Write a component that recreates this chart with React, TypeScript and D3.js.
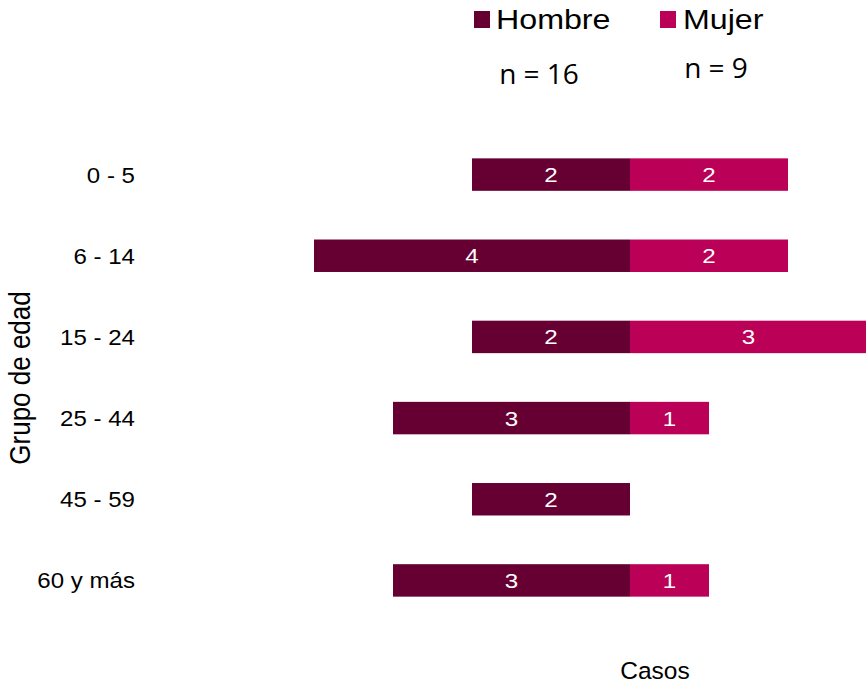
import React from "react";
import * as d3 from "d3";

const categories = ["0 - 5", "6 - 14", "15 - 24", "25 - 44", "45 - 59", "60 y más"];
const hombre = [2, 4, 2, 3, 2, 3];
const mujer = [2, 2, 3, 1, 0, 1];
const seriesNames = ["Hombre", "Mujer"];
const seriesN = ["n = 16", "n = 9"];
const colors = ["#660033", "#BA0057"];

const W = 866;
const H = 683;
const font = "'Liberation Sans', Arial, sans-serif";

function T(props: {
  x: number; y: number; size: number; sx?: number; anchor?: string; fill?: string;
  family?: string; rotate?: boolean; children: React.ReactNode;
}) {
  const { x, y, size, sx = 1, anchor = "start", fill = "#000", family = font, rotate = false } = props;
  const transform = rotate
    ? `translate(${x},${y}) rotate(-90) scale(1,${sx})`
    : `translate(${x},${y}) scale(${sx},1)`;
  return (
    <text transform={transform} textAnchor={anchor} fontSize={size} fill={fill} fontFamily={family}>
      {props.children}
    </text>
  );
}

export default function App() {
  const x = d3.scaleLinear().domain([-4, 3]).range([314, 867]);
  const y = d3.scaleBand().domain(categories).range([134, 621]).paddingInner(0.6).paddingOuter(0.3);
  const bh = y.bandwidth();
  return (
    <svg width={W} height={H} style={{ position: "absolute", left: 0, top: 0 }} fontFamily={font}>
      <rect width={W} height={H} fill="#fff" />
      {categories.map((c, i) => {
        const yy = y(c)!;
        const cy = yy + bh / 2;
        const h = hombre[i];
        const m = mujer[i];
        return (
          <g key={c}>
            <T x={135} y={cy + 8} size={21.5} sx={1.12} anchor="end">{c}</T>
            {h > 0 && (
              <g>
                <rect x={x(-h)} y={yy} width={x(0) - x(-h)} height={bh} fill={colors[0]} />
                <T x={(x(-h) + x(0)) / 2} y={cy + 7.5} size={21} sx={1.15} anchor="middle" fill="#fff">{h}</T>
              </g>
            )}
            {m > 0 && (
              <g>
                <rect x={x(0)} y={yy} width={x(m) - x(0)} height={bh} fill={colors[1]} />
                <T x={(x(0) + x(m)) / 2} y={cy + 7.5} size={21} sx={1.15} anchor="middle" fill="#fff">{m}</T>
              </g>
            )}
          </g>
        );
      })}
      <g>
        <rect x={474} y={11} width={16} height={17} fill={colors[0]} />
        <T x={496} y={29} size={28} sx={1.15}>{seriesNames[0]}</T>
        <rect x={660} y={11} width={16} height={17} fill={colors[1]} />
        <T x={683} y={29} size={28} sx={1.15}>{seriesNames[1]}</T>
        <T x={539} y={84} size={28} anchor="middle" family="'Open Sans', sans-serif">{seriesN[0]}</T>
        <T x={716} y={78} size={28} anchor="middle" family="'Open Sans', sans-serif">{seriesN[1]}</T>
      </g>
      <T x={30} y={378} size={26} sx={1.15} anchor="middle" rotate>Grupo de edad</T>
      <T x={655} y={679} size={24.5} anchor="middle">Casos</T>
    </svg>
  );
}
